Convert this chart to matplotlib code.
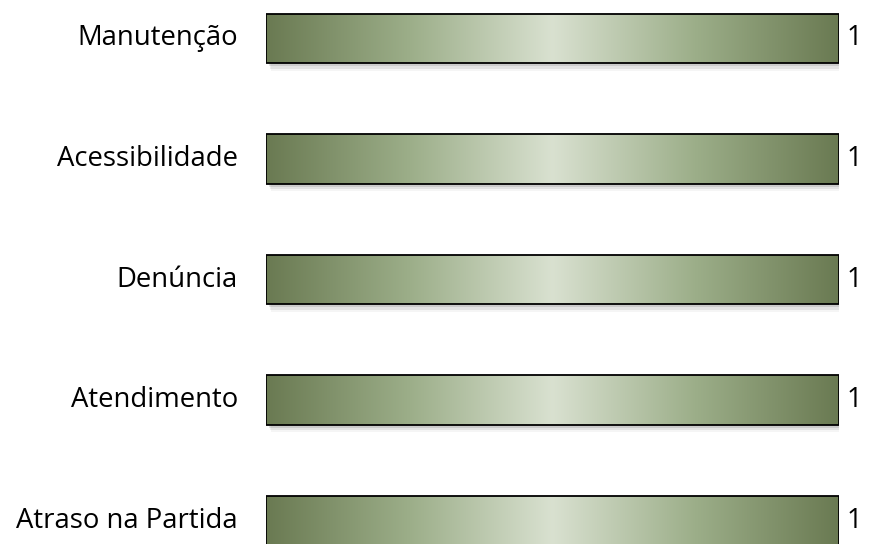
import numpy as np
import matplotlib.pyplot as plt
from matplotlib.colors import LinearSegmentedColormap
from matplotlib.patches import Rectangle

categorias = ['Manutenção', 'Acessibilidade', 'Denúncia', 'Atendimento', 'Atraso na Partida']
valores = [1, 1, 1, 1, 1]

plt.rcParams['font.family'] = ['Open Sans', 'DejaVu Sans']

# gradiente horizontal: escuro nas bordas, claro no centro
cmap = LinearSegmentedColormap.from_list('verde', [
    (0.0, '#6a7a52'),
    (0.25, '#9cae89'),
    (0.5, '#d9e1d0'),
    (0.75, '#9cae89'),
    (1.0, '#6a7a52'),
])
grad = np.linspace(0, 1, 256).reshape(1, -1)

fig = plt.figure(figsize=(8.76, 5.44), dpi=100)
ax = fig.add_axes([266 / 876, 0, (839 - 266) / 876, 1])

altura = 0.41
y = np.arange(len(categorias))
for yi, v in zip(y, valores):
    # sombra
    for k, a in enumerate([0.10, 0.07, 0.04]):
        d = 0.012 + 0.01 * k
        ax.add_patch(Rectangle((0.004 + d * 0.15, yi - altura / 2 + d * 2), v, altura,
                               facecolor='black', edgecolor='none', alpha=a, zorder=1))
    im = ax.imshow(grad, cmap=cmap, aspect='auto', extent=(0, v, yi + altura / 2, yi - altura / 2),
                   zorder=2, interpolation='bicubic')
    ret = Rectangle((0, yi - altura / 2), v, altura, facecolor='none', edgecolor='black',
                    linewidth=1.3, zorder=3)
    ax.add_patch(ret)
    im.set_clip_path(ret)
    ax.text(v + 0.014, yi, str(v), va='center', ha='left', fontsize=19.5, color='black')
    ax.text(-0.049, yi, categorias[yi], va='center', ha='right', fontsize=19.8, color='black')

ax.set_xlim(0, 1)
ax.set_ylim(4.195, -0.3195)
ax.axis('off')

fig.savefig('out.png', dpi=100, facecolor='white')
